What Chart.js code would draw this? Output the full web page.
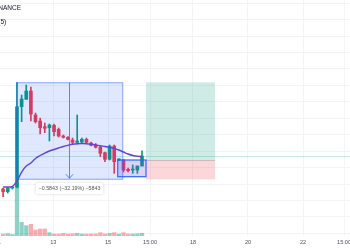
<!DOCTYPE html>
<html>
<head>
<meta charset="utf-8">
<script src="https://cdn.jsdelivr.net/npm/chart.js@4.4.0/dist/chart.umd.min.js"></script>
<style>
  html,body{margin:0;padding:0;background:#fff;overflow:hidden}
  #wrap{width:350px;height:250px;position:relative}
</style>
</head>
<body>
<div id="wrap"><canvas id="c"></canvas></div>
<script>
// --- Data: 4h bars, index 0 = first visible bar ---
const opens  = [1.1696,1.1532,1.1757,1.1817,1.6705,1.7155,1.7660,1.6199,1.5834,1.5488,1.5427,1.5573,1.5330,1.4922,1.4843,1.4678,1.4538,1.4557,1.4721,1.4496,1.4374,1.4234,1.3905,1.3504,1.4313,1.3461,1.3461,1.2895,1.2852,1.2852,1.3096];
const highs  = [1.1757,1.1787,1.1848,1.8166,1.7417,1.8026,1.7904,1.6321,1.6017,1.5713,1.5652,1.5652,1.5409,1.4983,1.4891,1.4800,1.6199,1.4800,1.4800,1.4557,1.4465,1.4313,1.3948,1.4374,1.4374,1.3552,1.3504,1.2974,1.3157,1.3096,1.4027];
const lows   = [1.1227,1.1453,1.1696,1.1757,1.5792,1.7155,1.5834,1.5713,1.5043,1.5123,1.4618,1.4922,1.4861,1.4800,1.4678,1.4435,1.4435,1.4496,1.4496,1.4313,1.4191,1.3662,1.3358,1.3461,1.2651,1.3417,1.2730,1.2730,1.2651,1.2651,1.3096];
const closes = [1.1532,1.1739,1.1817,1.6705,1.7174,1.7660,1.6260,1.5792,1.5427,1.5390,1.5591,1.5184,1.4922,1.4843,1.4721,1.4538,1.4618,1.4721,1.4538,1.4356,1.4234,1.3869,1.3504,1.4313,1.3358,1.3504,1.2852,1.2810,1.2895,1.3096,1.3705];
const maVals = [1.1817,1.1817,1.1848,1.2183,1.2730,1.3096,1.3278,1.3552,1.3735,1.3887,1.4009,1.4100,1.4191,1.4283,1.4356,1.4417,1.4453,1.4465,1.4453,1.4417,1.4374,1.4325,1.4283,1.4234,1.4161,1.4070,1.3948,1.3826,1.3735,1.3686,1.3674];
const volumes = [20,25,15,527,137,103,117,60,70,70,33,20,20,27,20,23,27,20,20,20,20,33,20,27,33,20,33,20,20,23,27];

// --- Axis ---
const tickAt     = [-1.1, 10.84, 22.66, 31.73, 41.01, 52.89, 64.77, 73.63];
const tickLabels = ['11','13','15','15:00','18','20','22','15:00'];
const priceGrid  = [0.9,1.0,1.1,1.2,1.3,1.4,1.5,1.6,1.7,1.8,1.9,2.0,2.1,2.2,2.3];

// --- Drawings (bar index / price) ---
const measureBars   = [2.94, 25.83];
const measurePrices = [1.8166, 1.2287];
const arrowBar      = 14.23;
const measureText   = '−0.5843 (−32.19%) −5843';
const zoneBars      = [24.75, 30.86];
const zonePrices    = [1.3461, 1.2445];
const positionBars  = [30.86, 45.77];
const positionPrices = [1.8190, 1.3461, 1.2287]; // target, entry, stop
const headerTexts   = ['BINANCE', '(5)'];

const GREEN = '#089981', RED = '#f23645';
const up = closes.map((c,i)=>c>=opens[i]);
const idx = closes.map((_,i)=>i);

const drawings = {
  id:'drawings',
  beforeDatasetsDraw(chart){
    const {ctx, chartArea:a, scales:{y}} = chart;
    const py = Math.round(y.getPixelForValue(closes[closes.length-1])) + 0.5;
    ctx.save();
    ctx.strokeStyle = 'rgba(8,153,129,0.22)'; ctx.lineWidth = 1;
    ctx.beginPath(); ctx.moveTo(a.left,py); ctx.lineTo(a.right,py); ctx.stroke();
    ctx.restore();
  },
  afterDatasetsDraw(chart){
    const {ctx, scales:{x, y}} = chart;
    const X = v=>x.getPixelForValue(v), Y = v=>y.getPixelForValue(v);
    ctx.save();
    // long position
    let l = X(positionBars[0]), r = X(positionBars[1]);
    const t = Y(positionPrices[0]), e = Y(positionPrices[1]), s = Y(positionPrices[2]);
    ctx.fillStyle = 'rgba(8,153,129,0.2)'; ctx.fillRect(l, t, r-l, e-t);
    ctx.fillStyle = 'rgba(242,54,69,0.2)'; ctx.fillRect(l, e, r-l, s-e);
    ctx.strokeStyle = 'rgba(120,123,134,0.35)'; ctx.lineWidth = 1;
    ctx.beginPath(); ctx.moveTo(l, Math.round(e)+0.5); ctx.lineTo(r, Math.round(e)+0.5); ctx.stroke();

    // measure box
    l = X(measureBars[0]); r = X(measureBars[1]);
    const mt = Y(measurePrices[0]), mb = Y(measurePrices[1]);
    ctx.fillStyle = 'rgba(41,98,255,0.15)'; ctx.fillRect(l, mt, r-l, mb-mt);
    ctx.strokeStyle = 'rgba(41,98,255,0.45)'; ctx.lineWidth = 1.2;
    ctx.strokeRect(l, mt, r-l, mb-mt);
    const ax = Math.round(X(arrowBar)) + 0.5;
    ctx.strokeStyle = 'rgba(41,98,255,0.75)'; ctx.lineWidth = 1;
    ctx.beginPath(); ctx.moveTo(ax, mt); ctx.lineTo(ax, mb-1);
    ctx.moveTo(ax-3.5, mb-5); ctx.lineTo(ax, mb-1); ctx.lineTo(ax+3.5, mb-5); ctx.stroke();

    // small zone box
    l = X(zoneBars[0]); r = X(zoneBars[1]);
    const zt = Y(zonePrices[0]), zb = Y(zonePrices[1]);
    ctx.fillStyle = 'rgba(110,80,215,0.25)'; ctx.fillRect(l, zt, r-l, zb-zt);
    ctx.strokeStyle = 'rgba(41,98,255,0.9)'; ctx.lineWidth = 1.3;
    ctx.strokeRect(l, zt, r-l, zb-zt);

    // measure label
    ctx.font = '5.3px "Liberation Sans", Arial, sans-serif';
    const w = ctx.measureText(measureText).width + 6, h = 11;
    const bx = ax - w/2, by = mb + 3.7;
    ctx.shadowColor = 'rgba(0,0,0,0.18)'; ctx.shadowBlur = 3;
    ctx.fillStyle = '#fff';
    ctx.beginPath(); ctx.roundRect(bx, by, w, h, 2); ctx.fill();
    ctx.shadowColor = 'transparent'; ctx.shadowBlur = 0;
    ctx.fillStyle = '#50535e'; ctx.textAlign = 'center'; ctx.textBaseline = 'middle';
    ctx.fillText(measureText, ax, by + h/2 + 0.3);
    ctx.restore();
  },
  afterDraw(chart){
    const {ctx} = chart;
    ctx.save();
    ctx.fillStyle = '#131722'; ctx.textAlign = 'right'; ctx.textBaseline = 'middle';
    ctx.font = '6.5px "Liberation Sans", Arial, sans-serif';
    ctx.fillText(headerTexts[0], 21, 8.5);
    ctx.fillText(headerTexts[1], 6.2, 22.5);
    ctx.restore();
  }
};

new Chart(document.getElementById('c'), {
  data:{
    datasets:[
      { type:'line', label:'MA', order:1, yAxisID:'y',
        data: idx.map(i=>({x:i, y:maVals[i]})),
        borderColor:'#6b3fcc', borderWidth:1.4, pointRadius:0, tension:0.4 },
      { type:'bar', label:'body', order:2, yAxisID:'y', grouped:false,
        data: idx.map(i=>({x:i, y:[opens[i], closes[i]]})),
        backgroundColor: up.map(u=>u?GREEN:RED), barThickness:3, minBarLength:1 },
      { type:'bar', label:'wick', order:3, yAxisID:'y', grouped:false,
        data: idx.map(i=>({x:i, y:[lows[i], highs[i]]})),
        backgroundColor: up.map(u=>u?GREEN:RED), barThickness:1 },
      { type:'bar', label:'vol', order:4, yAxisID:'yv', grouped:false,
        data: idx.map(i=>({x:i, y:volumes[i]})),
        backgroundColor: up.map(u=>u?'rgba(8,153,129,0.45)':'rgba(242,54,69,0.42)'), barThickness:3.6 }
    ]
  },
  options:{
    responsive:true, maintainAspectRatio:false, animation:false, devicePixelRatio:1,
    layout:{ padding:0 },
    plugins:{ legend:{display:false}, tooltip:{enabled:false} },
    scales:{
      x:{ type:'linear', min:-0.67, max:74.92, offset:false,
        afterBuildTicks: s=>{ s.ticks = tickAt.map(v=>({value:v})); },
        afterFit: s=>{ s.height = 14; s.paddingLeft = 0; s.paddingRight = 0; },
        ticks:{ autoSkip:false, maxRotation:0, padding:3, color:'#50535e',
          font:{ size:5.6, family:'"Liberation Sans", Arial, sans-serif' },
          callback:(v,i)=>tickLabels[i] },
        grid:{ color:'#f3f4f6', drawTicks:false, offset:false }, border:{ display:false } },
      y:{ type:'linear', position:'right', min:0.88357, max:2.31996,
        afterBuildTicks: s=>{ s.ticks = priceGrid.map(v=>({value:v})); },
        afterFit: s=>{ s.width = 0; s.paddingTop = 0; s.paddingBottom = 0; },
        ticks:{ display:false }, grid:{ color:'#f3f4f6', drawTicks:false }, border:{ display:false } },
      yv:{ type:'linear', display:false, min:0, max:2360 }
    }
  },
  plugins:[drawings]
});
</script>
</body>
</html>
